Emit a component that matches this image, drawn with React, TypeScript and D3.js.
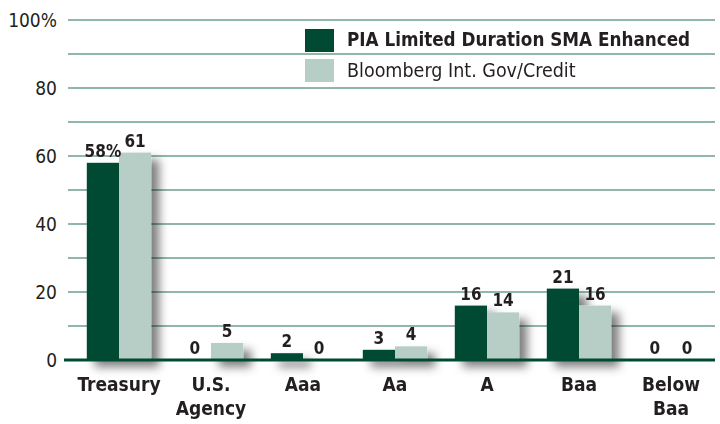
import React from 'react';
import * as d3 from 'd3';

const categories = ['Treasury', 'U.S.|Agency', 'Aaa', 'Aa', 'A', 'Baa', 'Below|Baa'];
const piaValues = [58, 0, 2, 3, 16, 21, 0];
const benchValues = [61, 5, 0, 4, 14, 16, 0];
const seriesNames = ['PIA Limited Duration SMA Enhanced', 'Bloomberg Int. Gov/Credit'];
const yTicks = [0, 20, 40, 60, 80, 100];
const gridTicks = [10, 20, 30, 40, 50, 60, 70, 80, 90, 100];

const DARK = '#004a33';
const LIGHT = '#b7cec6';
const GRID = '#6b9f8c';
const TEXT = '#231f20';
const FONT = '"Liberation Sans Narrow", "DejaVu Sans Condensed", "Arial Narrow", sans-serif';

export default function App() {
  const width = 720;
  const height = 424;

  const y = d3.scaleLinear().domain([0, 100]).range([360, 20]);
  const x0 = d3.scaleBand().domain(categories).range([73, 717]).paddingInner(0.3).paddingOuter(0.15);
  const x1 = d3.scaleBand().domain(['pia', 'bench']).range([0, x0.bandwidth()]);

  const rows = categories.map((c, i) => ({ c, pia: piaValues[i], bench: benchValues[i] }));

  return (
    <svg
      width={width}
      height={height}
      style={{ position: 'absolute', left: 0, top: 0, background: '#fff' }}
      fontFamily={FONT}
    >
      <defs>
        <filter id="shadow" x="-30%" y="-30%" width="180%" height="180%">
          <feDropShadow dx="8" dy="7" stdDeviation="5" floodColor="#000" floodOpacity="0.5" />
        </filter>
      </defs>

      {/* grid */}
      {gridTicks.map(t => (
        <line key={t} x1={68} x2={715} y1={y(t)} y2={y(t)} stroke={GRID} strokeWidth={1.5} />
      ))}

      {/* y labels */}
      {yTicks.map(t => (
        <text key={t} x={57} y={y(t) + 7} textAnchor="end" fontSize={19} fill={TEXT}>
          {t === 100 ? '100%' : t}
        </text>
      ))}

      {/* bars with shadow */}
      <g filter="url(#shadow)">
        {rows.map(d => (
          <g key={d.c} transform={`translate(${x0(d.c)},0)`}>
            {d.pia > 0 && (
              <rect x={x1('pia')} y={y(d.pia)} width={x1.bandwidth()} height={y(0) - y(d.pia)} fill={DARK} />
            )}
            {d.bench > 0 && (
              <rect x={x1('bench')} y={y(d.bench)} width={x1.bandwidth()} height={y(0) - y(d.bench)} fill={LIGHT} />
            )}
          </g>
        ))}
      </g>

      {/* baseline */}
      <line x1={64} x2={715} y1={y(0)} y2={y(0)} stroke={DARK} strokeWidth={3} />

      {/* value labels */}
      {rows.map((d, i) => (
        <g key={d.c} transform={`translate(${x0(d.c)},0)`} fontWeight="bold" fontSize={17} fill={TEXT} textAnchor="middle">
          <text x={(x1('pia') as number) + x1.bandwidth() / 2} y={y(d.pia) - 6}>
            {i === 0 ? `${d.pia}%` : d.pia}
          </text>
          <text x={(x1('bench') as number) + x1.bandwidth() / 2} y={y(d.bench) - 6}>
            {d.bench}
          </text>
        </g>
      ))}

      {/* category labels */}
      {categories.map(c => (
        <text key={c} x={(x0(c) as number) + x0.bandwidth() / 2} y={391} textAnchor="middle" fontWeight="bold" fontSize={19} fill={TEXT}>
          {c.split('|').map((line, j) => (
            <tspan key={j} x={(x0(c) as number) + x0.bandwidth() / 2} dy={j === 0 ? 0 : 24}>{line}</tspan>
          ))}
        </text>
      ))}

      {/* legend */}
      <rect x={305} y={29} width={29} height={23} fill={DARK} />
      <text x={347} y={46} fontSize={18.7} fontWeight="bold" fill={TEXT}>{seriesNames[0]}</text>
      <rect x={305} y={59} width={29} height={23} fill={LIGHT} />
      <text x={347} y={77} fontSize={19.5} fill={TEXT}>{seriesNames[1]}</text>
    </svg>
  );
}
